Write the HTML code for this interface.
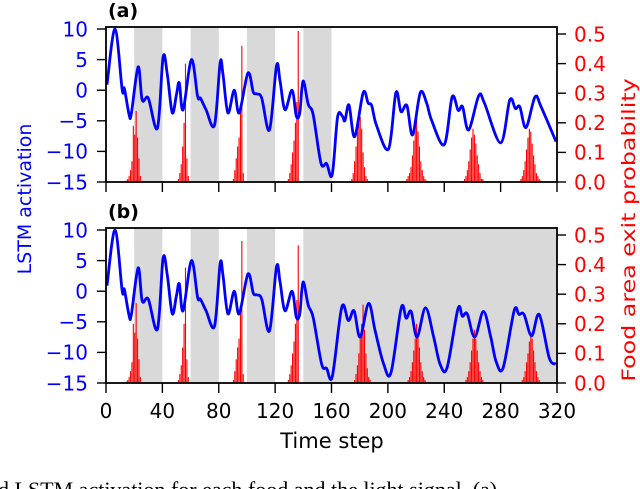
<!DOCTYPE html>
<html><head><meta charset="utf-8"><style>
html,body{margin:0;padding:0;background:#fff;width:640px;height:489px;overflow:hidden}
svg text{font-family:"DejaVu Sans","Liberation Sans",sans-serif}
</style></head><body>
<svg id="chart" width="640" height="489" viewBox="0 0 640 489" xmlns="http://www.w3.org/2000/svg"></svg>
<script>
// ---- data ----
const xTicks = [0,40,80,120,160,200,240,280,320];
const leftTicks = [10,5,0,-5,-10,-15];
const rightTicks = [0.5,0.4,0.3,0.2,0.1,0.0];
const bandsA = [[20,40],[60,80],[100,120],[140,160]];
const bandsB = [[20,40],[60,80],[100,120],[140,320]];
const timeA = [0.7,6.4,11.5,13,16.4,18,22.8,25.7,30,36.5,40.5,43.5,47,50,52,54.7,60.6,65,67,71,77,81,83,86.5,91,94.5,100.7,104.5,107,110.5,116,121,123.5,127,132,135,137.5,139.8,143.5,147,152.5,156.5,160.5,164.3,167.6,169.5,172.4,176.4,182.5,186,188.5,192,200.5,205.7,209.3,213.5,217.5,223,227.5,231,240,245.6,249.9,253,257.3,264.5,268.5,280,286.5,290.5,293.6,298,304.4,308.7,319.3];
const actA = [0.9,10,0.05,0.3,-4,-3.8,3.8,-1.6,-1.3,-6.2,5.4,2.6,-3.7,-0.7,1.2,-3.2,5,-1,-1.3,-3.2,-5.7,4.5,2.6,-3.7,0,-3.7,2.8,-0.3,-0.6,-1.3,-6.5,4,1.5,-3.2,0,-4.2,-3.7,1.5,-2.3,-4,-11.9,-12,-13.8,-4.4,-4.2,-5,-2.4,-7.6,-0.4,-2.1,-2.5,-5.8,-9.6,-0.4,-3.5,-2.5,-7.3,-0.4,-2.1,-4.9,-8.9,-1.1,-3.3,-2.7,-6.5,-0.9,-2.1,-8.6,-1.6,-3,-2.7,-6.1,-1.1,-2.7,-8.4];
const timeB = [0.7,6.4,11.5,13,16.4,18,22.8,25.7,30,36.5,40.5,43.5,47,50,52,54.7,60.6,65,67,71,77,81,83,86.5,91,94.5,100.7,104.5,107,110.5,116,121,123.5,127,132,135,137.5,139.8,143.5,147,153,156.5,160.6,167.3,172,176,180.3,186.3,191,197,202.2,209.5,213,216.5,220.7,226.7,232.5,237,242,249.7,252.8,256.3,261.6,267.8,273,276.8,281.8,289.6,293,296.6,302,307.4,314.5,319.3];
const actB = [0.9,10,0.05,0.3,-4,-3.8,3.8,-1.6,-1.3,-6.2,5.4,2.6,-3.7,-0.7,1.2,-3.2,5,-1,-1.3,-3.2,-5.7,4.5,2.6,-3.7,0,-3.7,2.8,-0.3,-0.6,-1.3,-6.5,4,1.5,-3.2,0,-4.2,-3.7,1.5,-2.3,-4.3,-11.9,-12.6,-13.9,-2.6,-4.8,-3.2,-7.5,-2.0,-6.5,-11.9,-13.3,-2.7,-4.4,-3.3,-7.5,-2.7,-7.5,-11.9,-12.5,-2.9,-4.1,-3.7,-7.5,-3.3,-7.5,-11.5,-12.5,-3.2,-3.8,-3.8,-7.3,-3.8,-10.9,-11.9];
// probability histogram clusters: start step + per-step values
const clusterStartA = [14,51,90,129,174,213,254,294];
const clusterValsA = [
 [0.005,0.01,0.02,0.04,0.07,0.19,0.16,0.24,0.15,0.08,0.02],
 [0.01,0.03,0.06,0.12,0.2,0.4,0.08,0.02],
 [0.01,0.04,0.08,0.12,0.15,0.26,0.46,0.03],
 [0.01,0.03,0.06,0.1,0.14,0.2,0.27,0.51],
 [0.01,0.03,0.07,0.12,0.17,0.2,0.22,0.18,0.1,0.05,0.02,0.01],
 [0.01,0.02,0.03,0.05,0.09,0.14,0.19,0.245,0.17,0.12,0.07,0.04,0.02,0.01,0.005],
 [0.01,0.02,0.04,0.07,0.11,0.15,0.18,0.16,0.13,0.09,0.06,0.03,0.01,0.01],
 [0.01,0.02,0.04,0.07,0.11,0.15,0.18,0.17,0.13,0.09,0.06,0.03,0.02,0.01,0.005]];
const clusterStartB = [14,51,90,129,176,214,255,295];
const clusterValsB = [
 [0.005,0.01,0.02,0.04,0.07,0.2,0.17,0.27,0.15,0.08,0.02],
 [0.01,0.03,0.06,0.12,0.2,0.39,0.08,0.02],
 [0.01,0.04,0.08,0.12,0.15,0.26,0.48,0.03],
 [0.01,0.03,0.06,0.1,0.14,0.2,0.28,0.465],
 [0.01,0.03,0.06,0.1,0.15,0.2,0.265,0.18,0.1,0.05,0.02,0.01],
 [0.01,0.02,0.04,0.07,0.11,0.15,0.2,0.17,0.12,0.07,0.04,0.02,0.01],
 [0.01,0.02,0.04,0.07,0.11,0.15,0.18,0.15,0.11,0.07,0.04,0.02,0.01],
 [0.01,0.02,0.04,0.07,0.1,0.14,0.17,0.15,0.11,0.07,0.04,0.02,0.01]];

const NS='http://www.w3.org/2000/svg';
const svg=document.getElementById('chart');
const X0=106,X1=557,FS=20;
const xs=t=>X0+(t/320)*(X1-X0);
function mk(tag,attrs,parent){const e=document.createElementNS(NS,tag);for(const k in attrs)e.setAttribute(k,attrs[k]);(parent||svg).appendChild(e);return e;}
function txt(x,y,s,anchor,fill,parent,extra){const e=mk('text',Object.assign({x:x,y:y,'text-anchor':anchor,'font-size':FS,fill:fill},extra||{}),parent);e.textContent=s;return e;}
function smooth(pts){let d='M'+pts[0][0]+','+pts[0][1];for(let i=0;i<pts.length-1;i++){const p0=pts[Math.max(0,i-1)],p1=pts[i],p2=pts[i+1],p3=pts[Math.min(pts.length-1,i+2)];const c1=[p1[0]+(p2[0]-p0[0])/6,p1[1]+(p2[1]-p0[1])/6],c2=[p2[0]-(p3[0]-p1[0])/6,p2[1]-(p3[1]-p1[1])/6];d+=' C'+c1.join(',')+' '+c2.join(',')+' '+p2.join(',');}return d;}

function panel(id,top,bottom,bands,times,acts,cStart,cVals,showX){
 const g=mk('g',{});
 
 
 const yTop=top+2, yBot=bottom;
 const yl=v=>yBot-(v+15)/25*(yBot-yTop);
 const yr=p=>yBot-p/0.5*(yBot-(top+7));
 bands.forEach(b=>{const r=mk('rect',{x:xs(b[0]),y:top,width:xs(b[1])-xs(b[0]),height:bottom-top,fill:'#d9d9d9'},g);
  
  });
 cStart.forEach((s,ci)=>{cVals[ci].forEach((p,k)=>{const t=s+k;const r=mk('rect',{x:xs(t),y:yr(p),width:xs(t+1)-xs(t)-0.3,height:yBot-yr(p),fill:'#ff0000'},g);
  
  });});
 const pts=times.map((t,i)=>[+xs(t).toFixed(2),+yl(acts[i]).toFixed(2)]);
 const cp=mk('clipPath',{id:'clip'+id},g);mk('rect',{x:X0,y:top,width:X1-X0,height:bottom-top},cp);
 const ln=mk('path',{d:smooth(pts),fill:'none',stroke:'#0000ff','stroke-width':2.8,'stroke-linejoin':'round','clip-path':'url(#clip'+id+')'},g);
 
 
 mk('rect',{x:X0,y:top,width:X1-X0,height:bottom-top,fill:'none',stroke:'#000','stroke-width':1.8},g);
 leftTicks.forEach(v=>{const y=yl(v);mk('line',{x1:X0-9,x2:X0,y1:y,y2:y,stroke:'#000','stroke-width':1.4},g);
  const t=txt(X0-18,y+7.3,(v<0?'\u2212'+(-v):String(v)),'end','#0000ff',g);
  
  });
 rightTicks.forEach(p=>{const y=yr(p);mk('line',{x1:X1,x2:X1+9,y1:y,y2:y,stroke:'#000','stroke-width':1.4},g);
  const t=txt(X1+17,y+7.3,p.toFixed(1),'start','#ff0000',g);
  
  });
 xTicks.forEach(v=>{const x=xs(v);mk('line',{x1:x,x2:x,y1:bottom,y2:bottom+10,stroke:'#000','stroke-width':1.4},g);
  if(showX){const t=txt(x,bottom+35,String(v),'middle','#000',g);
  
  }});
 const lab=txt(108,top-10,'('+id+')','start','#000',g,{'font-weight':'bold','font-size':19});
 
 
}
panel('a',27,182,bandsA,timeA,actA,clusterStartA,clusterValsA,false);
panel('b',228,383,bandsB,timeB,actB,clusterStartB,clusterValsB,true);

let t=txt(332,448,'Time step','middle','#000',null,{'font-size':21});


t=mk('text',{x:0,y:0,'text-anchor':'middle','font-size':19,fill:'#0000ff',transform:'translate(31,199) rotate(-90)'});t.textContent='LSTM activation';


t=mk('text',{x:0,y:0,'text-anchor':'middle','font-size':19,fill:'#ff0000',transform:'translate(635,230) rotate(-90) scale(1.25,1)'});t.textContent='Food area exit probability';


t=mk('text',{x:-2,y:497,'font-size':22,fill:'#000',style:'font-family:"Liberation Serif",serif'});t.textContent='d LSTM activation for each food and the light signal. (a)';


</script>
</body></html>
